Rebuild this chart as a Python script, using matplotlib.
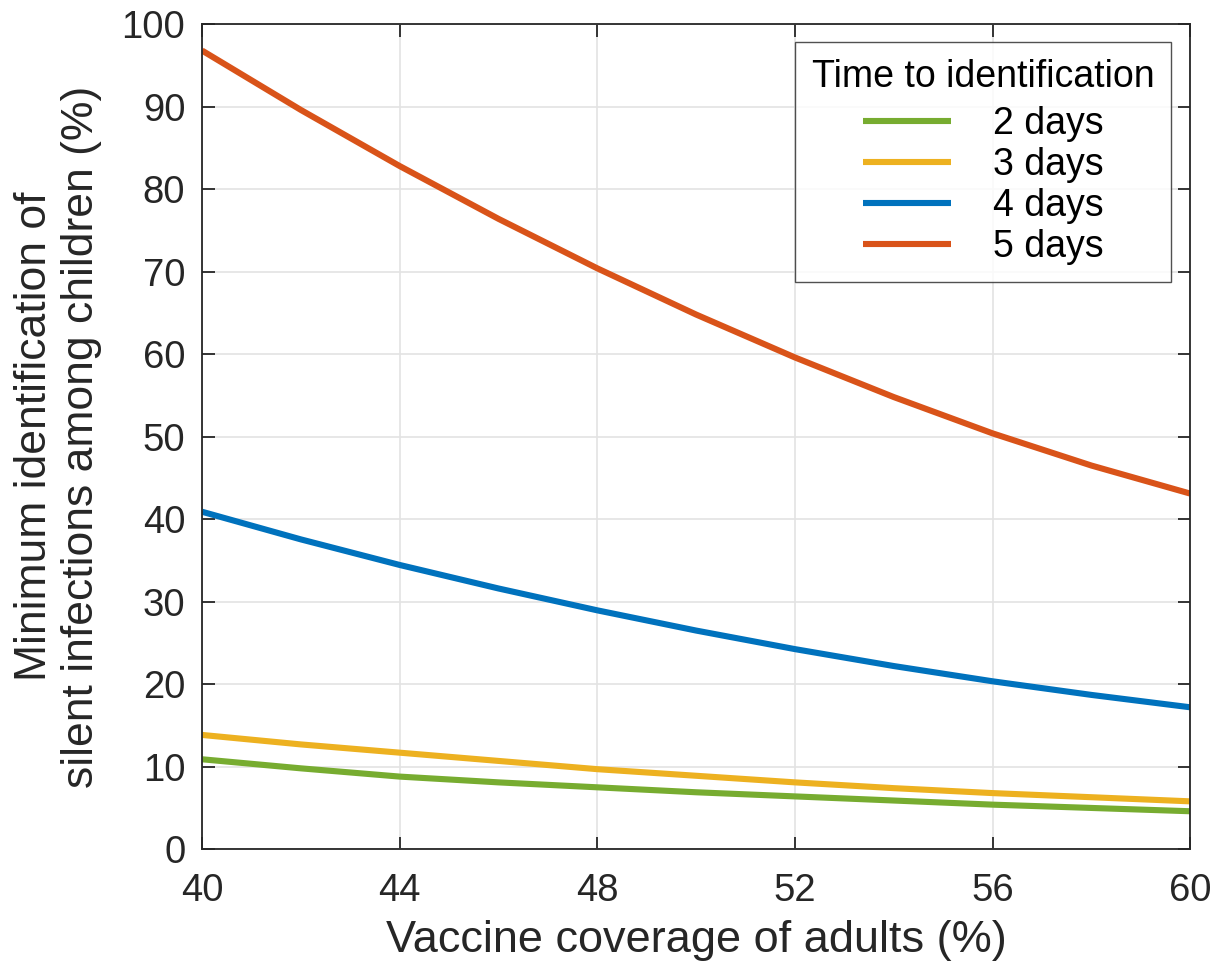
import numpy as np
import matplotlib.pyplot as plt
plt.switch_backend('agg')

plt.rcParams['font.family'] = ['Liberation Sans', 'DejaVu Sans']

# vaccine coverage of adults (%)
coverage = [40, 42, 44, 46, 48, 50, 52, 54, 56, 58, 60]

# minimum identification of silent infections among children (%)
days2 = [10.9, 9.8, 8.8, 8.1, 7.5, 6.9, 6.4, 5.9, 5.4, 5.0, 4.6]
days3 = [13.85, 12.7, 11.7, 10.7, 9.7, 8.9, 8.1, 7.4, 6.8, 6.3, 5.8]
days4 = [40.9, 37.55, 34.45, 31.6, 28.95, 26.5, 24.25, 22.2, 20.35, 18.7, 17.2]
days5 = [96.8, 89.6, 82.8, 76.4, 70.4, 64.8, 59.6, 54.8, 50.4, 46.5, 43.1]

labels = ['2 days', '3 days', '4 days', '5 days']
colors = ['#77AC30', '#EDB120', '#0072BD', '#D95319']

fig = plt.figure(figsize=(12.17, 9.65), dpi=100)
ax = fig.add_axes([0.166, 0.12, 0.812, 0.855])

for ys, lab, c in zip([days2, days3, days4, days5], labels, colors):
    ax.plot(coverage, ys, color=c, lw=4.4, label=lab, solid_capstyle='butt')

ax.set_xlim(40, 60)
ax.set_ylim(0, 100)
ax.set_xticks(np.arange(40, 61, 4))
ax.set_yticks(np.arange(0, 101, 10))
ax.grid(True, color='#e3e3e3', lw=1.2)
ax.set_axisbelow(True)

for s in ax.spines.values():
    s.set_color('#262626')
    s.set_linewidth(1.3)
ax.tick_params(direction='in', length=9, width=1.3, colors='#262626',
               labelsize=27.5, top=True, right=True)
ax.tick_params(axis='y', pad=12)
ax.tick_params(axis='x', pad=17)
for lbl in ax.get_xticklabels() + ax.get_yticklabels():
    lbl.set_color('#262626')

ax.set_xlabel('Vaccine coverage of adults (%)', fontsize=32.5, color='#262626', labelpad=8)
ax.set_ylabel('Minimum identification of\nsilent infections among children (%)',
              fontsize=32, color='#262626', labelpad=14, linespacing=1.2)

leg = ax.legend(title='Time to identification', loc='upper right',
                bbox_to_anchor=(0.9808, 0.978), fontsize=27, title_fontsize=27,
                frameon=True, fancybox=False, edgecolor='#262626',
                handlelength=2.35, handletextpad=1.12, labelspacing=0.13,
                borderpad=0.45, borderaxespad=0.0)
leg.get_frame().set_linewidth(1.0)
# a bit more room between the title and the entries, like the matlab legend
leg._legend_box.sep = 0.13 * 27 + 4.5

fig.savefig('out.png', dpi=100)
